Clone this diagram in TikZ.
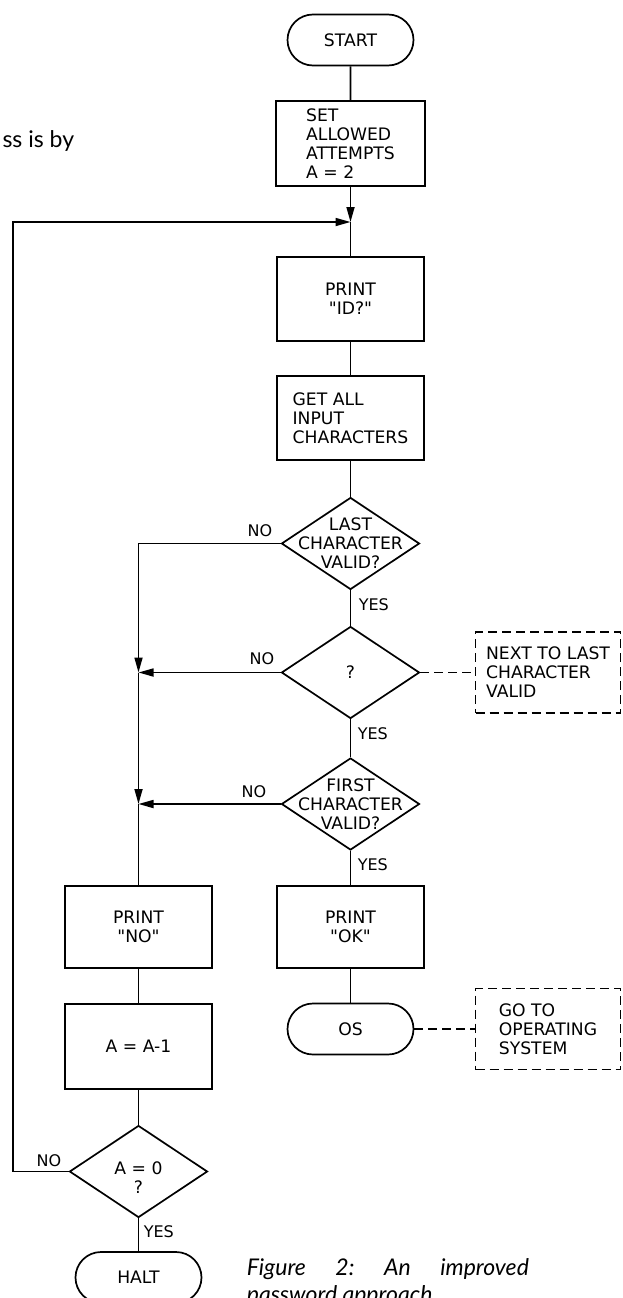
\documentclass[tikz,border=0pt]{standalone}
\usepackage{fontspec}
\setmainfont{DejaVu Sans}
\newfontfamily\bodyfont{Lato}
\usetikzlibrary{shapes.geometric,shapes.misc,arrows.meta}
\frenchspacing

\begin{document}
\begin{tikzpicture}[x=1pt,y=-1pt,line width=1.7pt,
  >={Triangle[length=15pt,width=8pt]},
  every node/.style={font=\fontsize{17.2}{19}\selectfont,inner sep=0pt},
  box/.style={draw,rectangle,minimum width=147pt,minimum height=84pt},
  term/.style={draw,rounded rectangle,minimum width=126pt,minimum height=51pt},
  test/.style={draw,diamond,minimum width=138pt,minimum height=92pt,
    inner xsep=-45pt,inner ysep=-25pt,align=center},
  dashline/.style={dash pattern=on 9pt off 5pt},
  note/.style={draw,dashline,rectangle,minimum width=145pt,minimum height=81pt,align=left},
  lbl/.style={font=\fontsize{16}{16}\selectfont}]
  \useasboundingbox (0,0) rectangle (622,1298);

  \node[font=\bodyfont\fontsize{23}{27}\selectfont,anchor=base east] (bodytext) at (75,147) {ss is by};

  \node[term] (start) at (350.5,40) {START};
  \node[box,minimum width=149pt,minimum height=85pt,align=left] (set) at (350.5,143.5) {SET\\ALLOWED\\ATTEMPTS\\A = 2};
  \coordinate (join) at (350.5,222);
  \node[box,align=center] (printid) at (350.5,299) {PRINT\\\textquotedbl ID?\textquotedbl};
  \node[box,align=left] (getall) at (350.5,418) {GET ALL\\INPUT\\CHARACTERS};
  \node[test] (last) at (350.5,543.5) {LAST\\CHARACTER\\VALID?};
  \node[test] (mid) at (350.5,672.5) {?};
  \node[test] (first) at (350.5,804) {FIRST\\CHARACTER\\VALID?};
  \node[box,minimum height=82pt,align=center] (printok) at (350.5,927) {PRINT\\\textquotedbl OK\textquotedbl};
  \node[term] (os) at (350.5,1029) {OS};

  \node[note] (midnote) at (548,672.5) {NEXT TO LAST\\CHARACTER\\VALID};
  \node[note] (osnote) at (548,1029) {GO TO\\OPERATING\\SYSTEM};

  \coordinate (m1) at (138.5,672.5);
  \coordinate (m2) at (138.5,804);
  \node[box,minimum height=82pt,align=center] (printno) at (138.5,927) {PRINT\\\textquotedbl NO\textquotedbl};
  \node[box,minimum height=85pt] (dec) at (138.5,1046.5) {A = A-1};
  \node[test] (zero) at (138.5,1171.5) {\raisebox{-9pt}[\height][\depth]{\begin{tabular}{@{}c@{}}A = 0\\?\end{tabular}}};
  \node[term] (halt) at (138.5,1277.5) {HALT};
  \coordinate (loop) at (13,1171.5);

  \draw (start) -- (set);
  \draw[->] (set) -- (join);
  \draw (join) -- (printid);
  \draw (printid) -- (getall);
  \draw (getall) -- (last);
  \draw (last) -- (mid);
  \draw (mid) -- (first);
  \draw (first) -- (printok);
  \draw (printok) -- (os);
  \draw[dashline] (mid.east) -- (midnote.west);
  \draw[dashline] (os.east) -- (osnote.west);

  \draw[->] (last.west) -| (m1);
  \draw[->] (mid.west) -- (m1);
  \draw[->] (m1) -- (m2);
  \draw[->] (first.west) -- (m2);
  \draw (m2) -- (printno);
  \draw (printno) -- (dec);
  \draw (dec) -- (zero);
  \draw (zero) -- (halt);
  \draw[->] (zero.west) -- (loop) |- (join);

  \foreach \x/\y [count=\i] in {260/531,262/659,254/792,49/1161}
    \node[lbl] (no\i) at (\x,\y) {NO};
  \foreach \x/\y [count=\i] in {358/605,357/734,357/865,143/1232}
    \node[lbl,anchor=west] (yes\i) at (\x,\y) {YES};

  \node[font=\bodyfont\itshape\fontsize{23}{27}\selectfont,anchor=base west,align=left] (caption) at (246,1302)
    {\makebox[282pt][s]{Figure 2: An improved}\\password approach};
\end{tikzpicture}
\end{document}
